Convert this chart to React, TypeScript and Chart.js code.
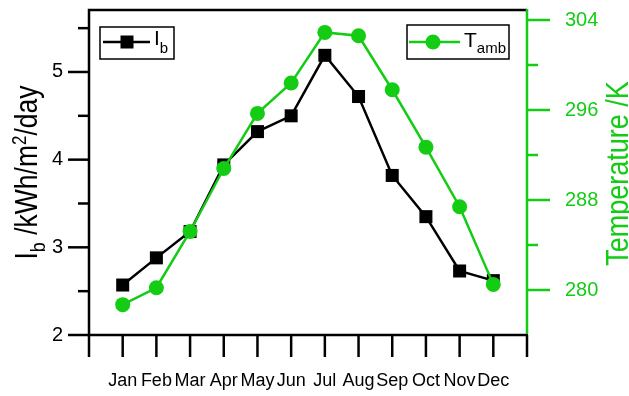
import React, { useEffect, useRef } from 'react';
import { Chart, registerables } from 'chart.js';

Chart.register(...registerables);

const months = ['Jan', 'Feb', 'Mar', 'Apr', 'May', 'Jun', 'Jul', 'Aug', 'Sep', 'Oct', 'Nov', 'Dec'];
const ibValues = [2.57, 2.88, 3.18, 3.94, 4.32, 4.5, 5.19, 4.72, 3.82, 3.35, 2.73, 2.62];
const tambValues = [278.7, 280.2, 285.2, 290.8, 295.7, 298.4, 302.9, 302.6, 297.8, 292.7, 287.4, 280.5];
const xTickValues = [0, 1, 2, 3, 4, 5, 6, 7, 8, 9, 10, 11, 12, 13];
const leftMajor = [2, 3, 4, 5];
const leftMinor = [2.5, 3.5, 4.5, 5.5];
const rightMajor = [280, 288, 296, 304];
const rightMinor = [284, 292, 300];

const GREEN = '#14cc14';
const FONT = "'Liberation Sans', Arial, sans-serif";

type Seg = { t: string; size: number; dy: number };

function measureRich(ctx: CanvasRenderingContext2D, segs: Seg[]) {
  let w = 0;
  for (const s of segs) {
    ctx.font = `${s.size}px ${FONT}`;
    w += ctx.measureText(s.t).width;
  }
  return w;
}

function drawRich(ctx: CanvasRenderingContext2D, segs: Seg[], x: number, y: number, color: string) {
  let cx = x;
  ctx.fillStyle = color;
  ctx.textBaseline = 'alphabetic';
  ctx.textAlign = 'left';
  for (const s of segs) {
    ctx.font = `${s.size}px ${FONT}`;
    ctx.fillText(s.t, cx, y + s.dy);
    cx += ctx.measureText(s.t).width;
  }
}

const decorPlugin = {
  id: 'decor',
  afterDraw(chart: any) {
    const { ctx, chartArea, scales } = chart;
    const { left, right, top, bottom } = chartArea;
    ctx.save();
    ctx.lineCap = 'butt';
    ctx.lineJoin = 'miter';
    ctx.lineWidth = 2.5;
    // black frame
    ctx.strokeStyle = '#000';
    ctx.beginPath();
    ctx.moveTo(right, top);
    ctx.lineTo(left, top);
    ctx.lineTo(left, bottom);
    ctx.lineTo(right + 1, bottom);
    ctx.stroke();
    // x ticks
    for (const v of xTickValues) {
      const px = scales.x.getPixelForValue(v);
      ctx.beginPath();
      ctx.moveTo(px, bottom);
      ctx.lineTo(px, bottom + 22);
      ctx.stroke();
    }
    // left ticks
    for (const v of leftMajor) {
      const py = scales.y.getPixelForValue(v);
      ctx.beginPath();
      ctx.moveTo(left - 21, py);
      ctx.lineTo(left, py);
      ctx.stroke();
    }
    for (const v of leftMinor) {
      const py = scales.y.getPixelForValue(v);
      ctx.beginPath();
      ctx.moveTo(left - 11, py);
      ctx.lineTo(left, py);
      ctx.stroke();
    }
    // right axis
    ctx.strokeStyle = GREEN;
    ctx.beginPath();
    ctx.moveTo(right, top - 1);
    ctx.lineTo(right, bottom - 1);
    ctx.stroke();
    for (const v of rightMajor) {
      const py = scales.y1.getPixelForValue(v);
      ctx.beginPath();
      ctx.moveTo(right, py);
      ctx.lineTo(right + 23, py);
      ctx.stroke();
    }
    for (const v of rightMinor) {
      const py = scales.y1.getPixelForValue(v);
      ctx.beginPath();
      ctx.moveTo(right, py);
      ctx.lineTo(right + 11, py);
      ctx.stroke();
    }

    // left title
    const lt: Seg[] = [
      { t: 'I', size: 26.5, dy: 0 },
      { t: 'b', size: 18, dy: 7 },
      { t: ' /kWh/m', size: 26.5, dy: 0 },
      { t: '2', size: 17, dy: -10 },
      { t: '/day', size: 26.5, dy: 0 },
    ];
    ctx.save();
    ctx.translate(37, 172.5);
    ctx.rotate(-Math.PI / 2);
    ctx.scale(1, 1.15);
    const lw = measureRich(ctx, lt);
    drawRich(ctx, lt, -lw / 2, 0, '#000');
    ctx.restore();

    // right title
    const rt: Seg[] = [{ t: 'Temperature /K', size: 27, dy: 0 }];
    ctx.save();
    ctx.translate(628, 173.5);
    ctx.rotate(-Math.PI / 2);
    ctx.scale(1, 1.15);
    const rw = measureRich(ctx, rt);
    drawRich(ctx, rt, -rw / 2, 0, GREEN);
    ctx.restore();

    // legend Ib
    ctx.lineWidth = 1.5;
    ctx.strokeStyle = '#000';
    ctx.fillStyle = '#fff';
    ctx.fillRect(100, 27, 74, 32);
    ctx.strokeRect(100, 27, 74, 32);
    ctx.lineWidth = 2.5;
    ctx.beginPath();
    ctx.moveTo(103, 42);
    ctx.lineTo(150, 42);
    ctx.stroke();
    ctx.fillStyle = '#000';
    ctx.fillRect(127 - 6.5, 42 - 6.5, 13, 13);
    drawRich(ctx, [
      { t: 'I', size: 21, dy: 0 },
      { t: 'b', size: 15, dy: 8 },
    ], 154, 45, '#000');

    // legend Tamb
    ctx.lineWidth = 1.5;
    ctx.strokeStyle = '#000';
    ctx.fillStyle = '#fff';
    ctx.fillRect(407, 25, 102, 34);
    ctx.strokeRect(407, 25, 102, 34);
    ctx.lineWidth = 2.5;
    ctx.strokeStyle = GREEN;
    ctx.beginPath();
    ctx.moveTo(409, 42);
    ctx.lineTo(460, 42);
    ctx.stroke();
    ctx.fillStyle = GREEN;
    ctx.beginPath();
    ctx.arc(433, 42, 7.5, 0, Math.PI * 2);
    ctx.fill();
    drawRich(ctx, [
      { t: 'T', size: 21, dy: 0 },
      { t: 'amb', size: 15, dy: 6 },
    ], 464, 47, '#000');

    ctx.restore();
  },
};

function fitScale(size: { width?: number; height?: number }) {
  return (scale: any) => {
    if (size.width !== undefined) scale.width = size.width;
    if (size.height !== undefined) scale.height = size.height;
    scale.paddingTop = 0;
    scale.paddingBottom = 0;
    scale.paddingLeft = 0;
    scale.paddingRight = 0;
  };
}

export default function App() {
  const ref = useRef<HTMLCanvasElement | null>(null);

  useEffect(() => {
    document.body.style.margin = '0';
    const canvas = ref.current;
    if (!canvas) return;
    const chart = new Chart(canvas, {
      type: 'line',
      data: {
        datasets: [
          {
            label: 'Tamb',
            data: months.map((_, i) => ({ x: i + 1, y: tambValues[i] })),
            yAxisID: 'y1',
            borderColor: GREEN,
            backgroundColor: GREEN,
            borderWidth: 2.5,
            pointStyle: 'circle',
            pointRadius: 7.5,
            pointBorderWidth: 0,
            tension: 0,
            order: 0,
          },
          {
            label: 'Ib',
            data: months.map((_, i) => ({ x: i + 1, y: ibValues[i] })),
            yAxisID: 'y',
            borderColor: '#000',
            backgroundColor: '#000',
            borderWidth: 2.5,
            pointStyle: 'rect',
            pointRadius: 9.2,
            pointBorderWidth: 0,
            tension: 0,
            order: 1,
          },
        ],
      },
      options: {
        animation: false,
        responsive: false,
        layout: { padding: { top: 10, left: 0, right: 0, bottom: 0 } },
        plugins: { legend: { display: false }, tooltip: { enabled: false } },
        scales: {
          x: {
            type: 'linear',
            min: 0,
            max: 13,
            afterBuildTicks: (scale: any) => {
              scale.ticks = xTickValues.map((v) => ({ value: v }));
            },
            afterFit: fitScale({ height: 61 }),
            grid: { display: false, drawTicks: false },
            border: { display: false },
            ticks: {
              autoSkip: false,
              maxRotation: 0,
              minRotation: 0,
              padding: 35,
              color: '#000',
              font: { family: FONT, size: 18 },
              callback: (v: any) => months[Number(v) - 1] ?? '',
            },
          },
          y: {
            type: 'linear',
            position: 'left',
            min: 2,
            max: 5.707,
            afterBuildTicks: (scale: any) => {
              scale.ticks = leftMajor.map((v) => ({ value: v }));
            },
            afterFit: fitScale({ width: 89 }),
            grid: { display: false, drawTicks: false },
            border: { display: false },
            ticks: {
              padding: 26,
              color: '#000',
              font: { family: FONT, size: 20 },
              callback: (v: any) => String(v),
            },
          },
          y1: {
            type: 'linear',
            position: 'right',
            min: 276,
            max: 304.89,
            afterBuildTicks: (scale: any) => {
              scale.ticks = rightMajor.map((v) => ({ value: v }));
            },
            afterFit: fitScale({ width: 102 }),
            grid: { display: false, drawTicks: false },
            border: { display: false },
            ticks: {
              padding: 38,
              color: GREEN,
              font: { family: FONT, size: 20 },
              callback: (v: any) => String(v),
            },
          },
        },
      },
      plugins: [decorPlugin],
    });
    return () => chart.destroy();
  }, []);

  return (
    <div style={{ width: 629, height: 396, background: '#fff' }}>
      <canvas ref={ref} width={629} height={396} style={{ display: 'block' }} />
    </div>
  );
}
